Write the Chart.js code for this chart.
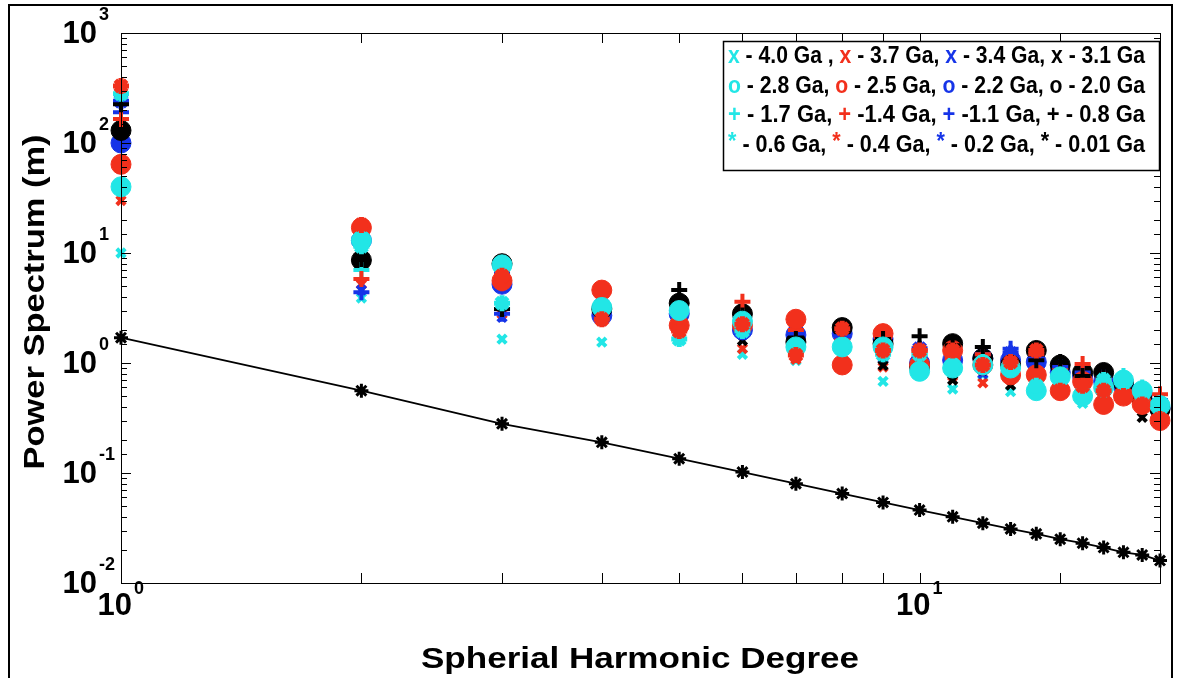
<!DOCTYPE html>
<html>
<head>
<meta charset="utf-8">
<script src="https://cdn.jsdelivr.net/npm/chart.js@4.4.1/dist/chart.umd.min.js"></script>
<style>
  html, body { margin: 0; padding: 0; background: #fff; overflow: hidden; }
  #wrap { position: relative; width: 1177px; height: 678px; }
</style>
</head>
<body>
<div id="wrap"><canvas id="spectrumChart" width="1177" height="678"></canvas></div>
<script>
// spherical harmonic degree
const degree = [1, 2, 3, 4, 5, 6, 7, 8, 9, 10, 11, 12, 13, 14, 15, 16, 17, 18, 19, 20];

// x markers (4.0 - 3.1 Ga)
const x40 = [10, 3.9, 1.65, 1.55, 1.65, 1.2, 1.05, 1.35, 0.68, 0.85, 0.58, 0.78, 0.55, 0.62, 0.58, 0.43, 0.5, 0.56, 0.44, 0.4];
const x37 = [30, 5.2, 2.8, 2.4, 1.8, 1.35, 1.08, 1.5, 0.92, 0.92, 0.76, 0.66, 0.7, 0.64, 0.68, 0.52, 0.47, 0.5, 0.42, 0.36];
const x34 = [95, 4.6, 2.6, 2.6, 1.95, 1.8, 1.2, 1.6, 1.1, 1.0, 0.86, 0.8, 0.76, 0.9, 0.7, 0.6, 0.56, 0.5, 0.46, 0.4];
const x31 = [125, 8.2, 3.0, 2.8, 1.8, 1.6, 1.3, 1.7, 0.95, 1.1, 0.7, 0.86, 0.63, 0.8, 0.82, 0.56, 0.6, 0.48, 0.32, 0.34];
// o markers (2.8 - 2.0 Ga)
const o28 = [40, 13, 7.8, 3.2, 3.0, 2.4, 1.4, 1.4, 1.4, 0.84, 0.9, 0.96, 0.9, 0.56, 0.75, 0.5, 0.6, 0.7, 0.56, 0.41];
const o25 = [64, 17, 5.6, 4.6, 2.2, 2.2, 2.5, 0.96, 1.85, 0.96, 1.3, 0.96, 0.78, 0.78, 0.56, 0.68, 0.42, 0.5, 0.42, 0.3];
const o22 = [100, 13, 5.2, 2.7, 2.8, 2.0, 1.8, 1.85, 1.65, 1.0, 1.06, 1.1, 1.06, 1.02, 0.82, 0.76, 0.68, 0.62, 0.52, 0.39];
const o20 = [130, 8.6, 8.0, 3.1, 3.5, 2.8, 1.55, 2.1, 1.5, 0.92, 1.5, 1.1, 0.96, 1.3, 0.96, 0.82, 0.82, 0.66, 0.46, 0.38];
// + markers (1.7 - 0.8 Ga)
const p17 = [165, 7.0, 3.1, 2.9, 3.0, 2.6, 1.45, 1.45, 1.3, 1.2, 1.3, 0.92, 0.82, 0.62, 0.8, 0.62, 0.66, 0.76, 0.6, 0.46];
const p14 = [165, 5.8, 5.3, 3.1, 2.3, 3.6, 2.0, 1.6, 1.45, 1.3, 1.1, 1.2, 0.92, 1.2, 0.86, 0.98, 0.72, 0.56, 0.56, 0.52];
const p11 = [190, 4.4, 2.8, 2.9, 2.9, 2.0, 1.85, 1.75, 1.65, 1.02, 1.02, 1.2, 1.35, 1.1, 0.92, 0.82, 0.74, 0.62, 0.58, 0.46];
const p08 = [225, 8.8, 3.1, 3.1, 4.6, 2.7, 1.65, 2.05, 1.65, 1.75, 1.45, 1.4, 1.02, 1.06, 1.02, 0.76, 0.76, 0.62, 0.5, 0.36];
// * markers (0.6 - 0.01 Ga)
const s06 = [280, 11.5, 3.5, 3.3, 1.65, 1.95, 1.35, 1.4, 1.2, 1.2, 0.96, 1.02, 0.92, 0.62, 0.74, 0.52, 0.7, 0.72, 0.5, 0.39];
const s04 = [330, 18, 6.2, 2.5, 1.95, 2.25, 1.18, 2.05, 1.3, 1.3, 1.3, 0.96, 1.02, 1.3, 0.56, 0.62, 0.56, 0.5, 0.42, 0.31];
const s02 = [240, 13.5, 6.6, 3.4, 2.9, 2.3, 1.95, 1.8, 1.55, 1.35, 1.25, 1.02, 1.22, 1.12, 0.78, 0.74, 0.72, 0.64, 0.56, 0.43];
const s001 = [1.7, 0.56, 0.28, 0.19, 0.135, 0.102, 0.08, 0.065, 0.054, 0.046, 0.04, 0.035, 0.031, 0.028, 0.025, 0.023, 0.021, 0.019, 0.018, 0.016];

// decade tick exponents
const xTickExps = [0, 1];
const yTickExps = [-2, -1, 0, 1, 2, 3];

// legend rows: [glyph, colour index, text]
const legendRows = [
  [['x', 0, ' - 4.0 Ga , '], ['x', 1, ' - 3.7 Ga, '], ['x', 2, ' - 3.4 Ga, '], ['x', 3, ' - 3.1 Ga']],
  [['o', 0, ' - 2.8 Ga, '], ['o', 1, ' - 2.5 Ga, '], ['o', 2, ' - 2.2 Ga, '], ['o', 3, ' - 2.0 Ga']],
  [['+', 0, ' - 1.7 Ga, '], ['+', 1, ' -1.4 Ga, '], ['+', 2, ' -1.1 Ga, '], ['+', 3, ' - 0.8 Ga']],
  [['*', 0, ' - 0.6 Ga, '], ['*', 1, ' - 0.4 Ga, '], ['*', 2, ' - 0.2 Ga, '], ['*', 3, ' - 0.01 Ga']]
];

const COLORS = ['#22e6e6', '#f2301c', '#1634e8', '#000000'];

// z: drawing layer (higher = on top)
const seriesDefs = [
  { label: '4.0 Ga', data: x40, c: 0, style: 'crossRot', z: 1 },
  { label: '3.7 Ga', data: x37, c: 1, style: 'crossRot', z: 2 },
  { label: '3.4 Ga', data: x34, c: 2, style: 'crossRot', z: 3 },
  { label: '3.1 Ga', data: x31, c: 3, style: 'crossRot', z: 4 },
  { label: '2.8 Ga', data: o28, c: 0, style: 'circle', z: 13 },
  { label: '2.5 Ga', data: o25, c: 1, style: 'circle', z: 11 },
  { label: '2.2 Ga', data: o22, c: 2, style: 'circle', z: 6 },
  { label: '2.0 Ga', data: o20, c: 3, style: 'circle', z: 7 },
  { label: '1.7 Ga', data: p17, c: 0, style: 'cross', z: 8 },
  { label: '1.4 Ga', data: p14, c: 1, style: 'cross', z: 10 },
  { label: '1.1 Ga', data: p11, c: 2, style: 'cross', z: 9 },
  { label: '0.8 Ga', data: p08, c: 3, style: 'cross', z: 12 },
  { label: '0.6 Ga', data: s06, c: 0, style: 'star', z: 14 },
  { label: '0.4 Ga', data: s04, c: 1, style: 'star', z: 15 },
  { label: '0.2 Ga', data: s02, c: 2, style: 'star', z: 5 },
  { label: '0.01 Ga', data: s001, c: 3, style: 'star', z: 16, line: true }
];

function markerSize(style) {
  if (style === 'circle') return { r: 10, w: 1 };
  if (style === 'crossRot') return { r: 6, w: 4 };
  if (style === 'cross') return { r: 8, w: 4 };
  return { r: 8, w: 5 };
}

const datasets = seriesDefs.map(s => {
  const col = COLORS[s.c];
  const m = s.line ? { r: 7, w: 3 } : markerSize(s.style);
  return {
    label: s.label,
    data: degree.map((d, k) => ({ x: d, y: s.data[k] })),
    showLine: !!s.line,
    borderColor: col,
    borderWidth: 1.8,
    backgroundColor: col,
    pointStyle: s.style,
    pointRadius: m.r,
    pointHoverRadius: m.r,
    pointBorderWidth: m.w,
    pointBorderColor: col,
    pointBackgroundColor: col,
    clip: false,
    order: 20 - s.z
  };
});

const FONT = "'Liberation Sans', Arial, Helvetica, sans-serif";

// draw text fitted to a given width (horizontal scale)
function fitText(ctx, text, cx, cy, width) {
  const w = ctx.measureText(text).width;
  ctx.save();
  ctx.translate(cx, cy);
  ctx.scale(width / w, 1);
  ctx.textAlign = 'center';
  ctx.textBaseline = 'middle';
  ctx.fillText(text, 0, 0);
  ctx.restore();
}

const figurePlugin = {
  id: 'figurePlugin',
  afterDatasetsDraw(chart) {
    const { ctx, chartArea: a, scales: { x, y } } = chart;
    ctx.save();
    ctx.strokeStyle = '#000';
    ctx.lineWidth = 1;
    ctx.strokeRect(a.left + 0.5, a.top + 0.5, a.right - a.left, a.bottom - a.top);
    ctx.beginPath();
    x.ticks.forEach(t => {
      if (t.value <= x.min || t.value >= x.max) return;
      const px = Math.round(x.getPixelForValue(t.value)) + 0.5;
      ctx.moveTo(px, a.bottom); ctx.lineTo(px, a.bottom - 10);
      ctx.moveTo(px, a.top); ctx.lineTo(px, a.top + 10);
    });
    y.ticks.forEach(t => {
      if (t.value <= y.min || t.value >= y.max) return;
      const py = Math.round(y.getPixelForValue(t.value)) + 0.5;
      const len = t.major ? 10 : 6;
      ctx.moveTo(a.left, py); ctx.lineTo(a.left + len, py);
      ctx.moveTo(a.right, py); ctx.lineTo(a.right - len, py);
    });
    ctx.stroke();
    ctx.restore();
  },
  afterDraw(chart) {
    const { ctx, scales: { x, y } } = chart;
    ctx.save();
    ctx.fillStyle = '#000';

    // y decade labels
    yTickExps.forEach(e => {
      const py = y.getPixelForValue(Math.pow(10, e));
      ctx.font = 'bold 31px ' + FONT;
      ctx.textAlign = 'right';
      ctx.textBaseline = 'middle';
      ctx.fillText('10', 97, py + 1);
      ctx.font = 'bold 18px ' + FONT;
      ctx.textAlign = 'left';
      ctx.fillText(String(e), 99, py - 18);
    });

    // x decade labels
    xTickExps.forEach(e => {
      const px = x.getPixelForValue(Math.pow(10, e));
      ctx.font = 'bold 31px ' + FONT;
      ctx.textAlign = 'right';
      ctx.textBaseline = 'middle';
      ctx.fillText('10', px + 11, 606);
      ctx.font = 'bold 18px ' + FONT;
      ctx.textAlign = 'left';
      ctx.fillText(String(e), px + 13, 589);
    });

    // axis titles
    ctx.font = 'bold 30px ' + FONT;
    fitText(ctx, 'Spherial Harmonic Degree', 640, 660, 438);
    ctx.save();
    ctx.translate(36, 302);
    ctx.rotate(-Math.PI / 2);
    fitText(ctx, 'Power Spectrum (m)', 0, 0, 335);
    ctx.restore();

    // legend box
    ctx.fillStyle = '#fff';
    ctx.fillRect(724, 42, 435, 128);
    ctx.strokeStyle = '#000';
    ctx.lineWidth = 1.5;
    ctx.strokeRect(723.5, 41.5, 436, 129);
    const rowY = [57, 87, 116, 146];
    ctx.font = 'bold 23px ' + FONT;
    ctx.textBaseline = 'middle';
    ctx.textAlign = 'left';
    legendRows.forEach((row, r) => {
      let total = 0;
      row.forEach(([g, c, t]) => { total += ctx.measureText(g + t).width; });
      const sx = 417 / total;
      ctx.save();
      ctx.translate(728, rowY[r]);
      ctx.scale(sx, 1);
      let cx = 0;
      row.forEach(([g, c, t]) => {
        ctx.fillStyle = COLORS[c];
        ctx.fillText(g, cx, g === '*' ? -3 : 0);
        cx += ctx.measureText(g).width;
        ctx.fillStyle = '#000';
        ctx.fillText(t, cx, 0);
        cx += ctx.measureText(t).width;
      });
      ctx.restore();
    });

    // outer figure frame
    ctx.strokeStyle = '#000';
    ctx.lineWidth = 2;
    ctx.strokeRect(9, 5, 1163, 700);
    ctx.restore();
  }
};

new Chart(document.getElementById('spectrumChart'), {
  type: 'scatter',
  data: { datasets },
  options: {
    responsive: false,
    animation: false,
    devicePixelRatio: 1,
    layout: { padding: { left: 121, right: 17, top: 33, bottom: 95 } },
    plugins: { legend: { display: false }, tooltip: { enabled: false } },
    scales: {
      x: {
        type: 'logarithmic', min: 1, max: 20,
        grid: { display: false }, border: { display: false },
        ticks: { display: false },
        afterFit: s => { s.height = 0; }
      },
      y: {
        type: 'logarithmic', min: 0.01, max: 1000,
        grid: { display: false }, border: { display: false },
        ticks: { display: false },
        afterFit: s => { s.width = 0; }
      }
    }
  },
  plugins: [figurePlugin]
});
</script>
</body>
</html>
